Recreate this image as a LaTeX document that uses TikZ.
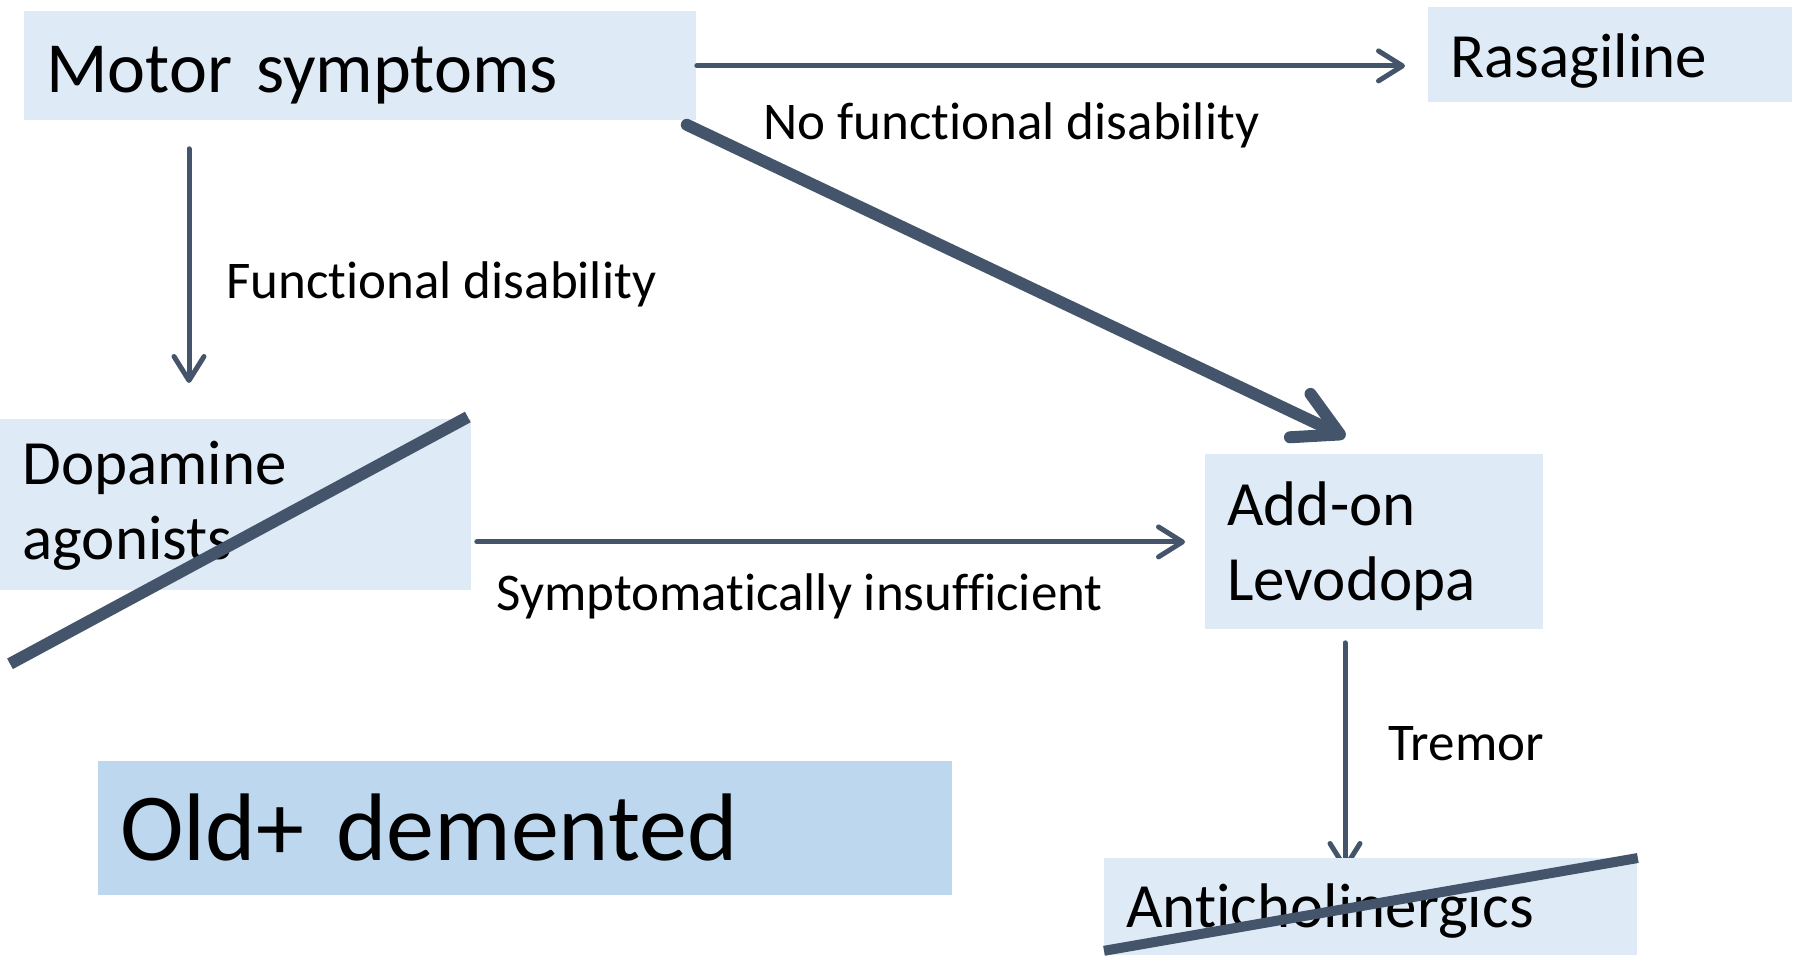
\documentclass[tikz,border=0pt]{standalone}
\usepackage{fontspec}
\setmainfont{Carlito}[Ligatures=CommonOff]
\usetikzlibrary{arrows.meta,backgrounds}
\definecolor{boxblue}{HTML}{DEEAF6}
\definecolor{oldblue}{HTML}{BDD7EE}
\definecolor{slate}{HTML}{44546A}
\tikzset{
  box/.style={fill=boxblue, anchor=north west, inner xsep=11pt, inner ysep=0pt, align=left},
  thinarrow/.style={draw=slate, line width=2.5pt, line cap=round, -{Straight Barb[length=12pt,width=15pt,round]}},
  thickarrow/.style={draw=slate, line width=6pt, line cap=round, -{Straight Barb[length=22pt,width=24pt,round]}},
  strike/.style={draw=slate, line width=6pt},
  lbl/.style={anchor=base west, inner sep=0pt, font=\fontsize{26.5}{32}\selectfont},
}
\begin{document}
\begin{tikzpicture}[x=0.5pt,y=-0.5pt]
	\useasboundingbox (0,0) rectangle (1799,955);
	% boxes
	\node[box, text height=26.5pt, text depth=0pt, text width=314pt, minimum height=54.5pt, font=\fontsize{36}{43}\selectfont] (motor) at (24,11) {Motor symptoms};
	\node[box, text height=22.5pt, text depth=0pt, text width=160pt, minimum height=47.5pt, font=\fontsize{31.5}{37.5}\selectfont] (rasa) at (1428,7) {Rasagiline};
	\node[box, text height=0pt, text depth=20.5pt, text width=213.5pt, minimum height=85.5pt, font=\fontsize{31.5}{37.5}\selectfont] (dopa) at (0,419) {Dopamine\\agonists};
	\node[box, text height=0pt, text depth=16pt, text width=147pt, minimum height=87.5pt, font=\fontsize{31.5}{37.5}\selectfont] (levo) at (1205,454) {Add-on\\Levodopa};
	\node[box, fill=oldblue, text height=32pt, text depth=0pt, text width=405pt, minimum height=67pt, font=\fontsize{48}{57}\selectfont] (old) at (98,761) {Old+ demented};
	\node[box, text height=20.5pt, text depth=0pt, text width=244.5pt, minimum height=48.5pt, font=\fontsize{31.5}{37.5}\selectfont] (anti) at (1104,858) {Anticholinergics};
	% arrows
	\draw[thinarrow, shorten >=11.5pt] (motor.east) -- (motor.east -| rasa.west);
	\draw[thinarrow, shorten <=14pt, shorten >=18pt] ([xshift=82.5pt]motor.south west) -- ([xshift=94.5pt]dopa.north west);
	\draw[thickarrow] ([xshift=-5pt,yshift=-2pt]motor.south east) -- ([xshift=-14.5pt,yshift=8.5pt]levo.north);
	\draw[thinarrow, shorten <=2.5pt, shorten >=10pt] (dopa.east |- levo.west) -- (levo.west);
	\begin{pgfonlayer}{background}
		\draw[thinarrow, shorten <=6.5pt] ([xshift=70pt]levo.south west) -- ([xshift=120.5pt,yshift=-6pt]anti.north west);
	\end{pgfonlayer}
	% labels
	\node[lbl] (nofd) at (763,139) {No functional disability};
	\node[lbl] (fd) at (226,298) {Functional disability};
	\node[lbl] (insuf) at (496,610) {Symptomatically insufficient};
	\node[lbl] (trem) at (1388,760) {Tremor};
	% crossed out
	\draw[strike] ([xshift=5pt,yshift=-36.5pt]dopa.south west) -- ([xshift=-2pt,yshift=1pt]dopa.north east);
	\draw[strike, line width=5pt] ([yshift=2.5pt]anti.south west) -- (anti.north east);
\end{tikzpicture}
\end{document}
